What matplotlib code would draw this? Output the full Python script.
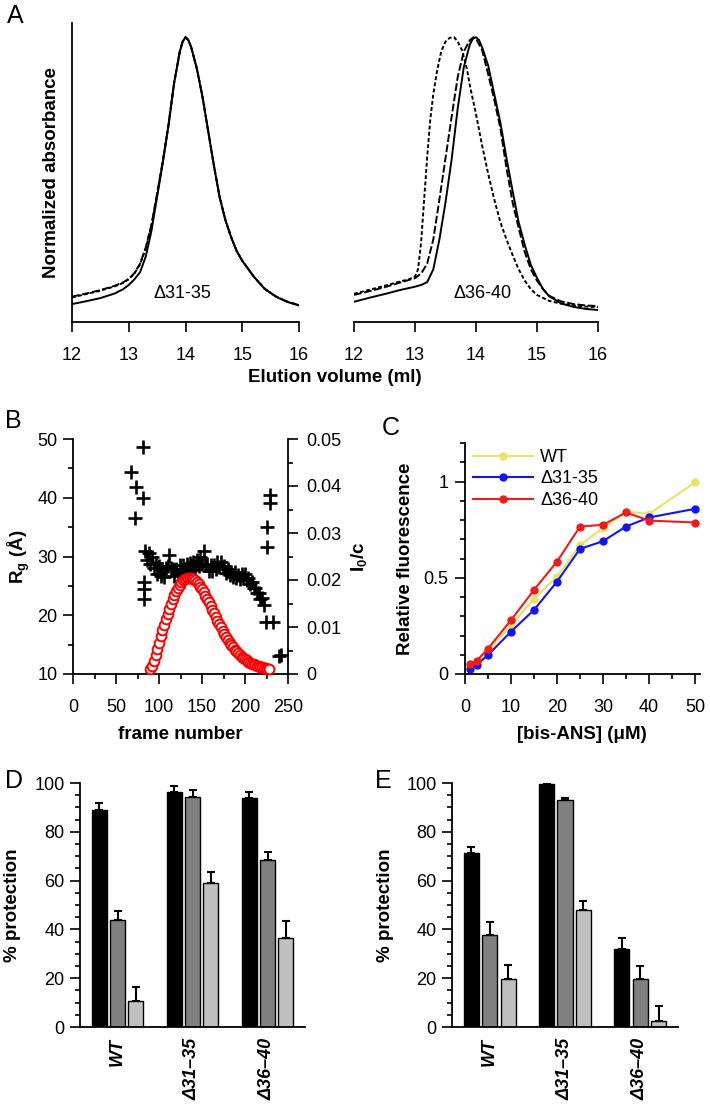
import numpy as np
import matplotlib
matplotlib.use("Agg")
import matplotlib.pyplot as plt
from matplotlib.ticker import MultipleLocator

plt.rcParams["font.family"] = ["Liberation Sans", "DejaVu Sans"]
plt.rcParams["mathtext.fontset"] = "custom"
plt.rcParams["mathtext.rm"] = "Liberation Sans"
plt.rcParams["mathtext.bf"] = "Liberation Sans:bold"
plt.rcParams["mathtext.it"] = "Liberation Sans:italic"
plt.rcParams["axes.linewidth"] = 1.3

# ---- A: size-exclusion profiles (normalized absorbance vs elution volume) ----
a_vol = [12.0, 12.25, 12.5, 12.75, 12.9, 13.0, 13.1, 13.2, 13.3, 13.4, 13.5, 13.6, 13.7,
         13.8, 13.9, 13.95, 14.0, 14.05, 14.1, 14.2, 14.3, 14.4, 14.5, 14.6, 14.7, 14.8,
         14.9, 15.0, 15.2, 15.4, 15.6, 15.8, 16.0]
a31_solid = [.063, .073, .084, .100, .115, .130, .150, .175, .230, .320, .440, .560, .690,
             .840, .950, .985, 1.0, .990, .965, .890, .790, .670, .550, .440, .360, .300,
             .250, .215, .160, .115, .088, .070, .058]
a31_dash = [.089, .100, .112, .127, .139, .152, .172, .205, .262, .342, .452, .565, .692,
            .840, .950, .985, 1.0, .990, .965, .890, .790, .670, .550, .440, .360, .300,
            .250, .215, .160, .116, .089, .071, .059]
a31_dot = [.086, .098, .110, .125, .137, .150, .170, .203, .258, .338, .448, .563, .691,
           .840, .950, .985, 1.0, .990, .965, .890, .790, .670, .550, .440, .360, .300,
           .250, .215, .160, .116, .089, .071, .059]

a36_solid_vol = [12.0, 12.25, 12.5, 12.75, 13.0, 13.1, 13.2, 13.3, 13.4, 13.5, 13.6, 13.7,
                 13.8, 13.9, 13.95, 14.0, 14.05, 14.1, 14.2, 14.3, 14.4, 14.5, 14.6, 14.7,
                 14.8, 14.9, 15.0, 15.1, 15.2, 15.4, 15.6, 15.8, 16.0]
a36_solid = [.071, .085, .098, .112, .124, .130, .140, .185, .290, .420, .570, .750,
             .895, .975, .995, 1.0, .990, .965, .900, .800, .700, .575, .460, .350,
             .270, .200, .155, .115, .090, .065, .053, .046, .042]
a36_dash_vol = [12.0, 12.25, 12.5, 12.75, 13.0, 13.1, 13.2, 13.3, 13.4, 13.5, 13.6, 13.7,
                13.8, 13.9, 13.96, 14.0, 14.1, 14.2, 14.3, 14.4, 14.5, 14.6, 14.7, 14.8,
                14.9, 15.0, 15.1, 15.2, 15.4, 15.6, 15.8, 16.0]
a36_dash = [.095, .108, .122, .138, .154, .170, .205, .290, .430, .575, .720, .860,
            .950, .990, 1.0, .995, .955, .870, .780, .680, .540, .420, .330, .245,
            .185, .145, .115, .092, .072, .063, .058, .056]
a36_dot_vol = [12.0, 12.25, 12.5, 12.75, 12.9, 13.0, 13.05, 13.1, 13.15, 13.2, 13.25, 13.3,
               13.36, 13.43, 13.5, 13.57, 13.64, 13.7, 13.77, 13.85, 13.9, 14.0, 14.1, 14.2,
               14.3, 14.4, 14.5, 14.6, 14.7, 14.8, 14.9, 15.0, 15.2, 15.4, 15.6, 15.8, 16.0]
a36_dot = [.099, .113, .127, .142, .150, .160, .185, .280, .430, .580, .710, .800,
           .880, .950, .985, .998, 1.0, .985, .955, .890, .830, .730, .620, .520,
           .430, .350, .290, .235, .185, .145, .115, .095, .074, .064, .058, .054, .052]

# ---- B: SEC-SAXS, Rg and I0/c vs frame ----
rg_frame = [67, 72, 73, 81, 81, 82, 82, 83,
            84, 86, 88, 90, 92, 94, 96, 98, 100, 102, 104, 106, 108, 110, 112, 114,
            116, 118, 120, 122, 124, 126, 128, 130, 132, 134, 136, 138, 140, 142, 144,
            146, 148, 150, 152, 154, 156, 158, 160, 162, 164, 166, 168, 170, 172, 174,
            176, 178, 180, 182, 184, 186, 188, 190, 192, 194, 196, 198, 200, 202, 204,
            206, 208, 210, 212, 214, 216, 218, 220, 222,
            225, 225, 229, 229, 224, 233, 240, 242]
rg_value = [44.4, 36.5, 41.9, 48.6, 40.0, 25.6, 24.4, 22.7,
            30.9, 29.4, 30.6, 28.8, 29.9, 28.0, 28.9, 27.1, 28.3, 26.6, 27.9, 26.5, 28.0,
            28.4, 30.2, 28.0, 27.9, 26.6, 27.9, 26.9, 28.5, 27.1, 28.6, 27.3, 28.7, 27.4,
            28.9, 27.7, 29.0, 27.9, 29.4, 28.3, 29.9, 28.8, 31.0, 28.6, 28.7, 27.6, 28.5,
            27.6, 28.6, 27.9, 29.0, 28.2, 29.1, 28.0, 28.3, 27.2, 27.8, 26.9, 27.4, 26.5,
            27.3, 26.4, 26.9, 26.2, 27.0, 26.3, 27.1, 26.0, 26.4, 25.4, 25.6, 24.7, 24.7,
            23.8, 23.8, 22.8, 22.9, 21.8,
            31.7, 35.1, 39.1, 40.5, 18.9, 18.9, 13.0, 13.2]

i0_frame = list(range(90, 229, 2))
i0_value = [.0010, .0017, .0028, .0040, .0053, .0066, .0080, .0093, .0105, .0117,
            .0128, .0139, .0150, .0160, .0169, .0177, .0184, .0190, .0195, .0199,
            .0202, .0204, .0205, .0205, .0204, .0202, .0199, .0195, .0191, .0186,
            .0180, .0174, .0167, .0160, .0153, .0145, .0137, .0129, .0121, .0113,
            .0106, .0099, .0092, .0085, .0079, .0073, .0067, .0062, .0057, .0052,
            .0048, .0044, .0040, .0037, .0034, .0031, .0029, .0026, .0024, .0022,
            .0021, .0019, .0018, .0016, .0015, .0014, .0013, .0012, .0011, .0011]
i0_ticks = [0, 0.01, 0.02, 0.03, 0.04, 0.05]
i0_ticklabels = ["0", "0.01", "0.02", "0.03", "0.04", "0.05"]

# ---- C: bis-ANS fluorescence ----
bis_ans = [1, 2.5, 5, 10, 15, 20, 25, 30, 35, 40, 50]
fl_wt = [0.040, 0.060, 0.120, 0.255, 0.390, 0.506, 0.670, 0.757, 0.844, 0.832, 0.995]
fl_d31 = [0.024, 0.047, 0.099, 0.220, 0.333, 0.480, 0.650, 0.690, 0.766, 0.813, 0.858]
fl_d36 = [0.050, 0.068, 0.132, 0.280, 0.437, 0.584, 0.766, 0.775, 0.839, 0.797, 0.787]

# ---- D / E: % protection ----
groups = ["WT", "Δ31–35", "Δ36–40"]
d_black = [89.1, 96.3, 93.7]
d_black_err = [2.7, 2.6, 2.7]
d_dark = [44.0, 94.1, 68.3]
d_dark_err = [3.7, 2.9, 3.3]
d_light = [10.5, 59.0, 36.5]
d_light_err = [5.8, 4.4, 6.8]
e_black = [71.3, 99.6, 32.1]
e_black_err = [2.3, 0.7, 4.4]
e_dark = [37.8, 92.9, 19.5]
e_dark_err = [5.2, 1.1, 5.4]
e_light = [19.8, 48.1, 2.6]
e_light_err = [5.5, 3.7, 6.1]

W, H = 710, 1109
fig = plt.figure(figsize=(W / 100, H / 100), dpi=100)


def box(l, t, r, b):
    return [l / W, 1 - b / H, (r - l) / W, (b - t) / H]


def ticks(ax, **kw):
    ax.tick_params(which="major", direction="out", length=7, width=1.2, labelsize=13, **kw)
    ax.tick_params(which="minor", direction="out", length=3.6, width=1.2)


LONG = (0, (4, 1.3))
SHORT = (0, (2.0, 1.2))

# panel A
axA1 = fig.add_axes(box(72, 23, 299, 322))
axA2 = fig.add_axes(box(354, 23, 598, 322))
axA1.plot(a_vol, a31_dot, color="k", lw=1.4, ls=SHORT)
axA1.plot(a_vol, a31_dash, color="k", lw=1.4, ls=LONG)
axA1.plot(a_vol, a31_solid, color="k", lw=1.4)
axA2.plot(a36_dot_vol, a36_dot, color="k", lw=1.4, ls=SHORT)
axA2.plot(a36_dash_vol, a36_dash, color="k", lw=1.4, ls=LONG)
axA2.plot(a36_solid_vol, a36_solid, color="k", lw=1.4)
axA1.text(13.95, 0.10, "Δ31-35", fontsize=13, ha="center", va="center")
axA2.text(14.1, 0.10, "Δ36-40", fontsize=13, ha="center", va="center")
for ax in (axA1, axA2):
    ax.set_xlim(12, 16)
    ax.set_ylim(0, 1.05)
    ax.set_xticks([12, 13, 14, 15, 16])
    ax.set_yticks([])
    ax.spines[["top", "right"]].set_visible(False)
    ticks(ax, pad=11)
axA2.spines["left"].set_visible(False)
axA1.set_ylabel("Normalized absorbance", fontsize=13.5, fontweight="bold")
axA1.yaxis.set_label_coords(-0.053, 0.5)
fig.text(335 / W, 1 - 378 / H, "Elution volume (ml)", fontsize=13.5, fontweight="bold",
         ha="center", va="center")

# panel B
axB = fig.add_axes(box(73, 439, 288, 674))
axB.plot(rg_frame, rg_value, "+", color="k", ms=10, mew=1.9, clip_on=False)
axB.set_xlim(0, 250)
axB.set_ylim(10, 50)
axB.xaxis.set_major_locator(MultipleLocator(50))
axB.xaxis.set_minor_locator(MultipleLocator(25))
axB.yaxis.set_major_locator(MultipleLocator(10))
axB.yaxis.set_minor_locator(MultipleLocator(5))
axB.spines[["top", "right"]].set_visible(False)
ticks(axB)
axB.tick_params(axis="x", pad=11)
axB.tick_params(axis="y", pad=4)
axB.set_ylabel("R$_\\mathbf{g}$ (Å)", fontsize=13.5, fontweight="bold")
axB.yaxis.set_label_coords(-0.19, 0.5)
axB.set_xlabel("frame number", fontsize=13.5, fontweight="bold")
axB.xaxis.set_label_coords(0.5, -0.221)
axB2 = axB.twinx()
axB2.plot(i0_frame, i0_value, "o", mfc="white", mec="red", ms=7, mew=1.4, clip_on=False)
axB2.set_yticks(i0_ticks, labels=i0_ticklabels)
axB2.yaxis.set_minor_locator(MultipleLocator(0.005))
axB2.set_ylim(0, 0.05)
axB2.spines[["top", "left", "bottom"]].set_visible(False)
ticks(axB2)
axB2.tick_params(axis="y", pad=6)
axB2.set_ylabel("I$_\\mathbf{0}$/c", fontsize=13.5, fontweight="bold")
axB2.yaxis.set_label_coords(1.284, 0.5)

# panel C
axC = fig.add_axes(box(465, 443, 699.6, 674))
axC.plot(bis_ans, fl_wt, "-o", color="#e8e26a", lw=1.5, ms=5, label="WT")
axC.plot(bis_ans, fl_d31, "-o", color="#1414f0", lw=1.5, ms=5, label="Δ31-35")
axC.plot(bis_ans, fl_d36, "-o", color="#ee1c1c", lw=1.5, ms=5, label="Δ36-40")
axC.set_xlim(0, 51)
axC.set_ylim(0, 1.2)
axC.xaxis.set_major_locator(MultipleLocator(10))
axC.xaxis.set_minor_locator(MultipleLocator(5))
axC.set_yticks([0, 0.5, 1], labels=["0", "0.5", "1"])
axC.yaxis.set_minor_locator(MultipleLocator(0.1))
axC.spines[["top", "right"]].set_visible(False)
ticks(axC)
axC.tick_params(axis="x", pad=11)
axC.tick_params(axis="y", pad=5)
axC.set_ylabel("Relative fluorescence", fontsize=13.5, fontweight="bold")
axC.yaxis.set_label_coords(-0.217, 0.5)
axC.set_xlabel("[bis-ANS] (μM)", fontsize=13.5, fontweight="bold")
axC.xaxis.set_label_coords(0.5, -0.225)
axC.legend(loc="upper left", bbox_to_anchor=(0.02, 0.99), frameon=False, fontsize=13,
           handlelength=3.3, handletextpad=0.4, labelspacing=0.25, borderaxespad=0,
           borderpad=0.2)

# panels D and E
shades = ["#000000", "#808080", "#c0c0c0"]
offsets = [-0.245, 0.0, 0.245]


def protection(ax, series, errors, ylabel_x):
    x = np.arange(len(groups))
    for off, col, vals, errs in zip(offsets, shades, series, errors):
        ax.bar(x + off, vals, width=0.2, color=col, edgecolor="k", lw=1.0, zorder=2)
        ax.errorbar(x + off, vals, yerr=[np.zeros(len(vals)), errs], fmt="none",
                    ecolor="k", elinewidth=1.5, capsize=3, capthick=1.5, zorder=1)
    ax.set_xlim(-0.5, 2.5)
    ax.set_ylim(0, 100)
    ax.set_xticks(x)
    ax.set_xticklabels(groups, rotation=90, fontsize=13, fontweight="bold", fontstyle="italic")
    ax.yaxis.set_major_locator(MultipleLocator(20))
    ax.yaxis.set_minor_locator(MultipleLocator(5))
    ax.spines[["top", "right"]].set_visible(False)
    ticks(ax)
    ax.tick_params(axis="x", length=0, pad=8)
    ax.tick_params(axis="y", pad=4)
    ax.set_ylabel("% protection", fontsize=13.5, fontweight="bold")
    ax.yaxis.set_label_coords(ylabel_x, 0.5)


axD = fig.add_axes(box(80, 783, 305, 1027))
protection(axD, [d_black, d_dark, d_light], [d_black_err, d_dark_err, d_light_err], -0.262)
axE = fig.add_axes(box(452, 783, 678, 1027))
protection(axE, [e_black, e_dark, e_light], [e_black_err, e_dark_err, e_light_err], -0.257)

# panel letters
for letter, px, py in [("A", 7, 23), ("B", 5, 428), ("C", 382, 435), ("D", 5, 788), ("E", 375, 788)]:
    fig.text(px / W, 1 - py / H, letter, fontsize=18, ha="left", va="baseline")

fig.savefig("out.png", dpi=100)
